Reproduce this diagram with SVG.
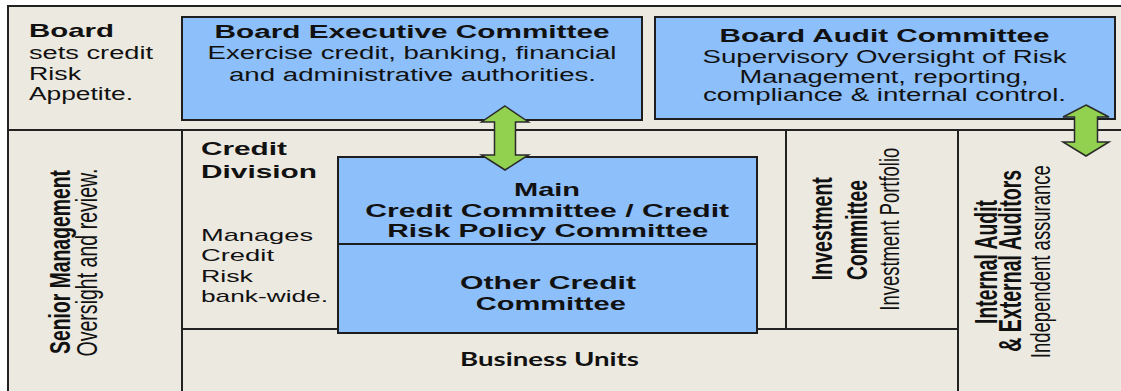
<svg xmlns="http://www.w3.org/2000/svg" width="1121" height="391" viewBox="0 0 1121 391">
<style>
.t{font-family:"Liberation Sans",Arial,sans-serif;fill:#111;}
.b{font-weight:bold;}
.m{text-anchor:middle;}
.ln{stroke:#222;stroke-width:2;fill:none;}
.box{fill:#8DBFFB;stroke:#1e1e1e;stroke-width:2;}
.arrow{fill:#92D050;stroke:#2a2a2a;stroke-width:1.5;stroke-linejoin:miter;}
.bu{font-family:Lato,"Open Sans",sans-serif;font-weight:bold;fill:#111;text-anchor:middle;}
</style>
<rect x="0" y="0" width="1121" height="391" fill="#ffffff"/>
<rect x="8" y="6" width="1113" height="385" fill="#ECE9E0"/>
<g id="frame">
<path class="ln" d="M8,391 V6 H1121"/>
<path class="ln" d="M8,130 H1121"/>
<path class="ln" d="M182,130 V391"/>
<path class="ln" d="M786,130 V329"/>
<path class="ln" d="M958,130 V391"/>
<path class="ln" d="M182,329 H958"/>
</g>
<g id="board">
<text class="t b" x="29" y="37" font-size="19" textLength="85" lengthAdjust="spacingAndGlyphs">Board</text>
<text class="t" x="29" y="59" font-size="18" textLength="124" lengthAdjust="spacingAndGlyphs">sets credit</text>
<text class="t" x="29" y="80" font-size="18" textLength="52" lengthAdjust="spacingAndGlyphs">Risk</text>
<text class="t" x="29" y="100" font-size="18" textLength="104" lengthAdjust="spacingAndGlyphs">Appetite.</text>
</g>
<g id="board-executive-committee">
<rect class="box" x="182" y="17" width="460" height="103"/>
<text class="t b m" x="412" y="37.5" font-size="18" textLength="395" lengthAdjust="spacingAndGlyphs">Board Executive Committee</text>
<text class="t m" x="412" y="59" font-size="18" textLength="409" lengthAdjust="spacingAndGlyphs">Exercise credit, banking,  financial</text>
<text class="t m" x="412.5" y="81" font-size="18" textLength="367" lengthAdjust="spacingAndGlyphs">and administrative authorities.</text>
</g>
<g id="board-audit-committee">
<rect class="box" x="655" y="17" width="460" height="102"/>
<text class="t b m" x="884.5" y="41.5" font-size="18" textLength="330" lengthAdjust="spacingAndGlyphs">Board Audit Committee</text>
<text class="t m" x="884.5" y="62.5" font-size="18" textLength="364" lengthAdjust="spacingAndGlyphs">Supervisory Oversight of Risk</text>
<text class="t m" x="884" y="82.5" font-size="17.5" textLength="289" lengthAdjust="spacingAndGlyphs">Management,  reporting,</text>
<text class="t m" x="884.5" y="101" font-size="17.5" textLength="363" lengthAdjust="spacingAndGlyphs">compliance &amp; internal control.</text>
</g>
<g id="senior-management">
<text class="t b m" transform="translate(70,262) rotate(-90) scale(1,1.6)" font-size="19" textLength="184" lengthAdjust="spacingAndGlyphs">Senior Management</text>
<text class="t m" transform="translate(96.5,262.5) rotate(-90) scale(1,1.6)" font-size="18" textLength="188" lengthAdjust="spacingAndGlyphs">Oversight and review.</text>
</g>
<g id="credit-division">
<text class="t b" x="201" y="155" font-size="19" textLength="86" lengthAdjust="spacingAndGlyphs">Credit</text>
<text class="t b" x="201" y="177.7" font-size="19" textLength="116" lengthAdjust="spacingAndGlyphs">Division</text>
<text class="t" x="201" y="241" font-size="17" textLength="112" lengthAdjust="spacingAndGlyphs">Manages</text>
<text class="t" x="201" y="261" font-size="17" textLength="73" lengthAdjust="spacingAndGlyphs">Credit</text>
<text class="t" x="201" y="281.7" font-size="17" textLength="52" lengthAdjust="spacingAndGlyphs">Risk</text>
<text class="t" x="201" y="302.3" font-size="17" textLength="127" lengthAdjust="spacingAndGlyphs">bank-wide.</text>
</g>
<g id="main-credit-committee">
<rect class="box" x="338" y="157" width="419" height="87"/>
<text class="t b m" x="547" y="196" font-size="19" textLength="66" lengthAdjust="spacingAndGlyphs">Main</text>
<text class="t b m" x="547.2" y="216.7" font-size="19" textLength="364" lengthAdjust="spacingAndGlyphs">Credit Committee  / Credit</text>
<text class="t b m" x="547.8" y="237.3" font-size="19" textLength="321" lengthAdjust="spacingAndGlyphs">Risk Policy Committee</text>
</g>
<g id="other-credit-committee">
<rect class="box" x="338" y="244" width="419" height="89"/>
<text class="t b m" x="548" y="289.3" font-size="19" textLength="176" lengthAdjust="spacingAndGlyphs">Other Credit</text>
<text class="t b m" x="550.8" y="310" font-size="19" textLength="150" lengthAdjust="spacingAndGlyphs">Committee</text>
</g>
<g id="investment-committee">
<text class="t b m" transform="translate(831.5,228.7) rotate(-90) scale(1,1.6)" font-size="19" textLength="103" lengthAdjust="spacingAndGlyphs">Investment</text>
<text class="t b m" transform="translate(866.5,230) rotate(-90) scale(1,1.6)" font-size="19" textLength="100" lengthAdjust="spacingAndGlyphs">Committee</text>
<text class="t m" transform="translate(899,229.2) rotate(-90) scale(1,1.6)" font-size="17" textLength="163" lengthAdjust="spacingAndGlyphs">Investment  Portfolio</text>
</g>
<g id="internal-external-audit">
<text class="t b m" transform="translate(996.5,262) rotate(-90) scale(1,1.6)" font-size="19.5" textLength="124" lengthAdjust="spacingAndGlyphs">Internal Audit</text>
<text class="t b m" transform="translate(1021,260.8) rotate(-90) scale(1,1.6)" font-size="19.5" textLength="182" lengthAdjust="spacingAndGlyphs">&amp; External Auditors</text>
<text class="t m" transform="translate(1050,261.7) rotate(-90) scale(1,1.6)" font-size="17" textLength="193" lengthAdjust="spacingAndGlyphs">Independent  assurance</text>
</g>
<g id="business-units">
<text class="bu" x="549.5" y="365.7" font-size="18.5" textLength="179" lengthAdjust="spacingAndGlyphs">Business Units</text>
</g>
<g id="connectors">
<path class="arrow" d="M505,106 L528.5,122 L515.5,122 L515.5,155 L528.5,155 L505,170 L481.5,155 L494.5,155 L494.5,122 L481.5,122 Z"/>
<path class="arrow" d="M1086,105 L1109,117 L1097.5,117 L1097.5,142 L1109,142 L1086,156 L1063,142 L1074.5,142 L1074.5,117 L1063,117 Z"/>
</g>
</svg>
